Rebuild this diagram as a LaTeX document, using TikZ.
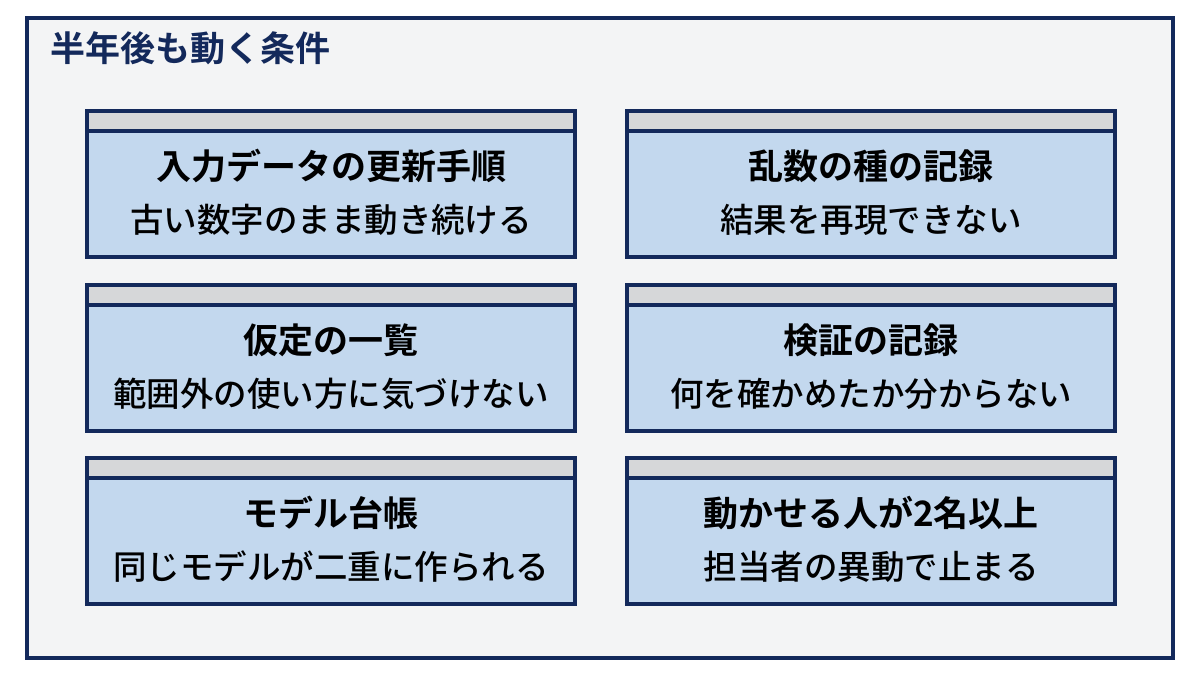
\documentclass[tikz,border=0pt]{standalone}
\usepackage{fontspec}
\newfontfamily\cjk{Noto Sans CJK JP Medium}
\newfontfamily\cjkb{Noto Sans CJK JP Bold}
\definecolor{navy}{HTML}{13295B}
\definecolor{bg}{HTML}{F3F4F5}
\definecolor{card}{HTML}{C3D8EE}
\definecolor{strip}{HTML}{D6D7D9}
\begin{document}
\begin{tikzpicture}[x=1pt,y=-1pt,
  cardbox/.style={draw=navy,line width=3.2pt,fill=card},
  l1/.style={font=\cjkb\fontsize{35}{40}\selectfont,text=black,inner sep=0},
  l2/.style={font=\cjk\fontsize{33.5}{40}\selectfont,text=black,inner sep=0}]
\useasboundingbox (0,0) rectangle (1200,675);
\fill[white] (0,0) rectangle (1200,675);
\draw[navy,line width=3.2pt,fill=bg] (27,18) rectangle (1173,658);
\node[anchor=west,font=\cjkb\fontsize{35}{40}\selectfont,text=navy,inner sep=0] (title) at (50,48) {半年後も動く条件};
\foreach \x/\y/\a/\b/\n in {
 87/111/入力データの更新手順/古い数字のまま動き続ける/c1,
 627/111/乱数の種の記録/結果を再現できない/c2,
 87/285/仮定の一覧/範囲外の使い方に気づけない/c3,
 627/285/検証の記録/何を確かめたか分からない/c4,
 87/458/モデル台帳/同じモデルが二重に作られる/c5,
 627/458/動かせる人が2名以上/担当者の異動で止まる/c6}{
 \fill[card] (\x,\y) rectangle ++(488,146);
 \fill[strip] (\x,\y) rectangle ++(488,20);
 \draw[navy,line width=3.2pt] (\x,\y+20) -- ++(488,0);
 \draw[navy,line width=3.2pt] (\x,\y) rectangle ++(488,146);
 \node[l1] (\n a) at (\x+244,\y+55) {\a};
 \node[l2] (\n b) at (\x+244,\y+109) {\b};
}
\end{tikzpicture}
\end{document}
